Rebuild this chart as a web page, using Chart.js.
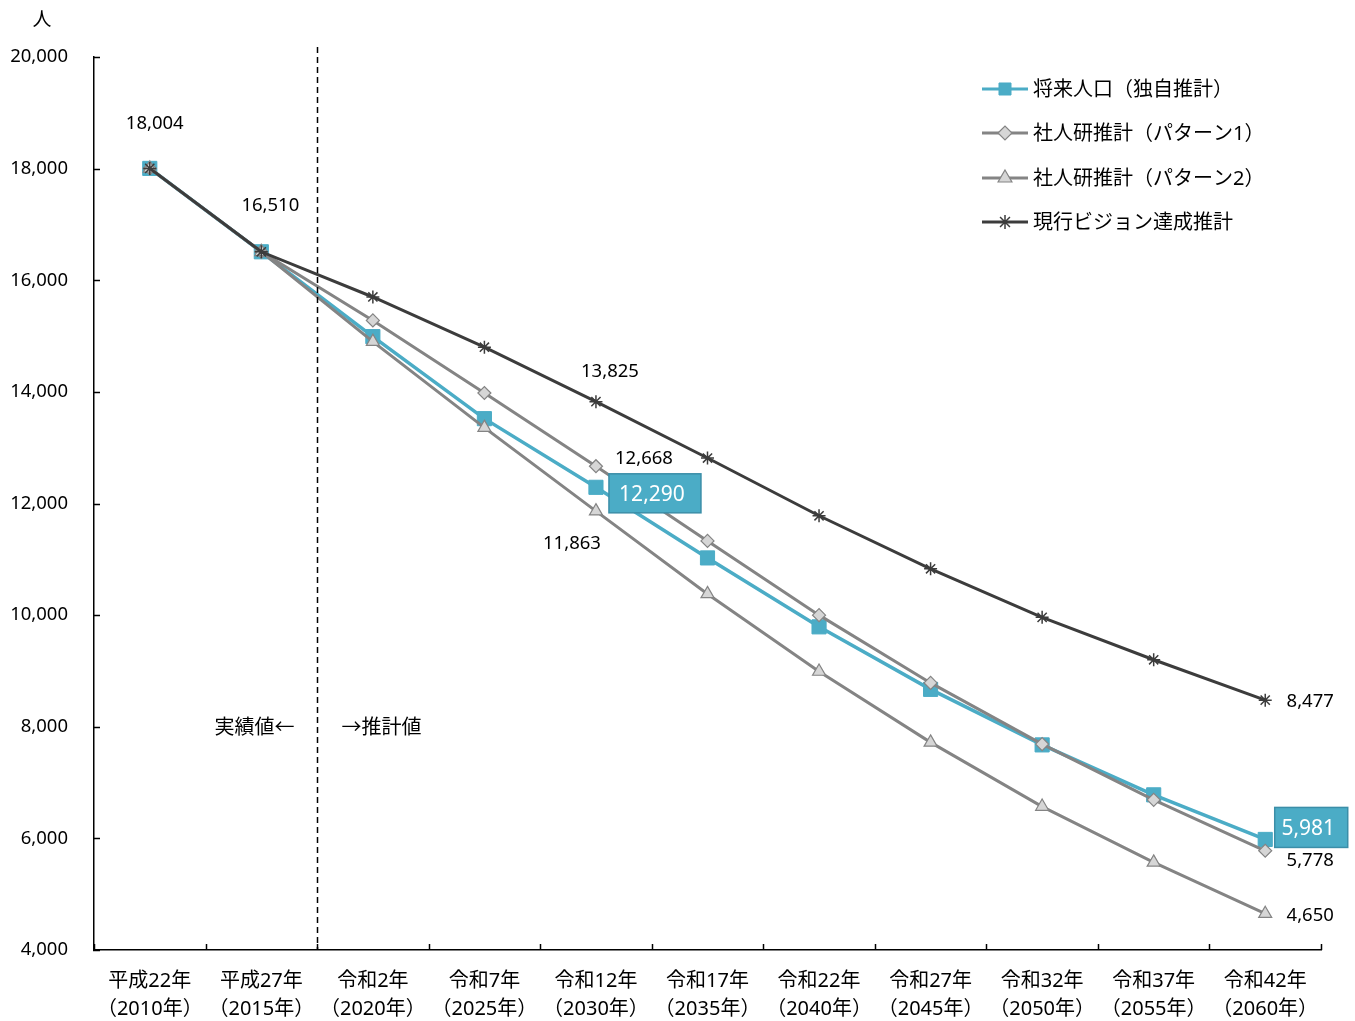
<!DOCTYPE html>
<html lang="ja">
<head>
<meta charset="utf-8">
<title>将来人口推計</title>
<script src="https://cdn.jsdelivr.net/npm/chart.js@4.4.1/dist/chart.umd.min.js"></script>
<style>
  html, body { margin: 0; padding: 0; background: #fff; }
  #wrap { position: relative; width: 1355px; height: 1021px; }
</style>
</head>
<body>
<div id="wrap"><canvas id="chart"></canvas></div>
<script>
const FONT = '"Noto Sans", "Noto Sans CJK JP", sans-serif';

// Categories (two-line tick labels)
const periods = [
  ['平成22年', '（2010年）'],
  ['平成27年', '（2015年）'],
  ['令和2年', '（2020年）'],
  ['令和7年', '（2025年）'],
  ['令和12年', '（2030年）'],
  ['令和17年', '（2035年）'],
  ['令和22年', '（2040年）'],
  ['令和27年', '（2045年）'],
  ['令和32年', '（2050年）'],
  ['令和37年', '（2055年）'],
  ['令和42年', '（2060年）'],
];

// Series values (people)
const ownEstimate = [18004, 16510, 14990, 13520, 12290, 11025, 9790, 8670, 7675, 6780, 5981];
const ipssPattern1 = [18004, 16510, 15280, 13980, 12668, 11330, 10000, 8785, 7690, 6690, 5778];
const ipssPattern2 = [18004, 16510, 14900, 13360, 11863, 10380, 8990, 7720, 6570, 5570, 4650];
const visionTarget = [18004, 16510, 15700, 14800, 13825, 12815, 11780, 10830, 9960, 9200, 8477];

const seriesNames = [
  '将来人口（独自推計）',
  '社人研推計（パターン1）',
  '社人研推計（パターン2）',
  '現行ビジョン達成推計',
];

// Y axis range / ticks
const yMin = 4000;
const yMax = 20000;
const yStep = 2000;

const BLUE = '#4bacc6';
const GRAY = '#848484';
const DARK = '#3c3c3c';
const MARK_FILL = '#d6d6d6';

const fmt = (v) => v.toLocaleString('en-US');

// Which values get a printed label, and where (offset from the point)
const valueLabels = [
  { ds: 3, i: 0, dx: 5, dy: -45 },
  { ds: 3, i: 1, dx: 9, dy: -46 },
  { ds: 3, i: 4, dx: 14, dy: -30 },
  { ds: 1, i: 4, dx: 48, dy: -7 },
  { ds: 0, i: 4, dx: 59, dy: 6, boxed: true, w: 92, h: 39 },
  { ds: 2, i: 4, dx: -24, dy: 33 },
  { ds: 3, i: 10, dx: 45, dy: 2 },
  { ds: 0, i: 10, dx: 46, dy: -12, boxed: true, w: 73, h: 40 },
  { ds: 1, i: 10, dx: 45, dy: 10 },
  { ds: 2, i: 10, dx: 45, dy: 2 },
];

const decorPlugin = {
  id: 'decor',
  afterDatasetsDraw(chart) {
    const { ctx, scales: { x, y } } = chart;
    const area = chart.chartArea;
    ctx.save();

    // inward ticks on the x axis (between categories)
    ctx.strokeStyle = '#000';
    ctx.lineWidth = 1.5;
    for (let i = 0; i <= periods.length; i += 1) {
      const px = Math.round(x.getPixelForValue(i - 0.5)) + 0.5;
      ctx.beginPath();
      ctx.moveTo(px, area.bottom);
      ctx.lineTo(px, area.bottom - 6);
      ctx.stroke();
    }
    // inward ticks on the y axis
    for (let v = yMin; v <= yMax; v += yStep) {
      const py = Math.round(y.getPixelForValue(v)) + 0.5;
      ctx.beginPath();
      ctx.moveTo(area.left - 1, py);
      ctx.lineTo(area.left + 6, py);
      ctx.stroke();
    }

    // dashed divider between actual and estimated values
    const dx = Math.round(x.getPixelForValue(1.5)) + 0.5;
    ctx.setLineDash([6, 4]);
    ctx.lineWidth = 1.5;
    ctx.beginPath();
    ctx.moveTo(dx, area.top - 10);
    ctx.lineTo(dx, area.bottom);
    ctx.stroke();
    ctx.setLineDash([]);

    ctx.fillStyle = '#000';
    ctx.font = `20px ${FONT}`;
    ctx.textBaseline = 'middle';
    ctx.textAlign = 'center';
    const ty = y.getPixelForValue(8000) + 2;
    ctx.fillText('実績値←', dx - 63, ty);
    ctx.fillText('→推計値', dx + 64, ty);

    // unit
    ctx.font = `19px ${FONT}`;
    ctx.fillText('人', 42, 21);

    // value labels
    valueLabels.forEach((l) => {
      const pt = chart.getDatasetMeta(l.ds).data[l.i];
      const cx = pt.x + l.dx;
      const cy = pt.y + l.dy;
      const text = fmt(chart.data.datasets[l.ds].data[l.i]);
      if (l.boxed) {
        ctx.fillStyle = BLUE;
        ctx.strokeStyle = '#3b8ea8';
        ctx.lineWidth = 1.5;
        ctx.fillRect(cx - l.w / 2, cy - l.h / 2, l.w, l.h);
        ctx.strokeRect(cx - l.w / 2, cy - l.h / 2, l.w, l.h);
        ctx.fillStyle = '#fff';
        ctx.font = `21px ${FONT}`;
        ctx.fillText(text, cx - 3, cy + 2);
      } else {
        ctx.fillStyle = '#000';
        ctx.font = `18.5px ${FONT}`;
        ctx.fillText(text, cx, cy);
      }
    });

    // legend
    const rows = [89, 133, 178, 222];
    chart.data.datasets.forEach((ds, k) => {
      const ly = rows[k];
      ctx.strokeStyle = ds.borderColor;
      ctx.lineWidth = 3;
      ctx.beginPath();
      ctx.moveTo(982, ly);
      ctx.lineTo(1028, ly);
      ctx.stroke();
      ctx.fillStyle = ds.pointBackgroundColor;
      ctx.strokeStyle = ds.pointBorderColor;
      ctx.lineWidth = ds.pointBorderWidth;
      Chart.helpers.drawPoint(ctx, {
        pointStyle: ds.pointStyle,
        radius: k === 0 ? 8.5 : ds.pointRadius + 0.5,
        borderWidth: ds.pointBorderWidth,
      }, 1005, ly);
      ctx.fillStyle = '#000';
      ctx.font = `20px ${FONT}`;
      ctx.textAlign = 'left';
      ctx.fillText(ds.label, 1033, ly + 1);
    });

    ctx.restore();
  },
};

new Chart(document.getElementById('chart'), {
  type: 'line',
  data: {
    labels: periods,
    datasets: [
      {
        label: seriesNames[0],
        data: ownEstimate,
        borderColor: BLUE,
        borderWidth: 3.5,
        pointStyle: 'rect',
        pointRadius: 10,
        pointBackgroundColor: BLUE,
        pointBorderColor: BLUE,
        pointBorderWidth: 1,
        order: 4,
      },
      {
        label: seriesNames[1],
        data: ipssPattern1,
        borderColor: GRAY,
        borderWidth: 3,
        pointStyle: 'rectRot',
        pointRadius: 6.5,
        pointBackgroundColor: MARK_FILL,
        pointBorderColor: GRAY,
        pointBorderWidth: 1.2,
        order: 3,
      },
      {
        label: seriesNames[2],
        data: ipssPattern2,
        borderColor: GRAY,
        borderWidth: 3,
        pointStyle: 'triangle',
        pointRadius: 7.5,
        pointBackgroundColor: MARK_FILL,
        pointBorderColor: GRAY,
        pointBorderWidth: 1.2,
        order: 2,
      },
      {
        label: seriesNames[3],
        data: visionTarget,
        borderColor: DARK,
        borderWidth: 3,
        pointStyle: 'star',
        pointRadius: 6.5,
        pointBackgroundColor: DARK,
        pointBorderColor: DARK,
        pointBorderWidth: 1.5,
        order: 1,
      },
    ],
  },
  options: {
    responsive: true,
    maintainAspectRatio: false,
    animation: false,
    layout: { padding: { top: 57, right: 34, left: 0, bottom: 0 } },
    plugins: {
      legend: { display: false },
      tooltip: { enabled: false },
    },
    scales: {
      x: {
        offset: true,
        grid: { display: true, drawOnChartArea: false, drawTicks: false },
        border: { display: true, color: '#000', width: 1.5 },
        ticks: {
          color: '#000',
          padding: 17,
          maxRotation: 0,
          autoSkip: false,
          font: { family: FONT, size: 20, lineHeight: 1.4 },
        },
        afterFit: (scale) => { scale.height = 71; },
      },
      y: {
        min: yMin,
        max: yMax,
        grid: { display: true, drawOnChartArea: false, drawTicks: false },
        border: { display: true, color: '#000', width: 1.5 },
        ticks: {
          stepSize: yStep,
          color: '#000',
          padding: 26,
          font: { family: FONT, size: 18.5 },
          callback: (v) => fmt(v),
        },
        afterFit: (scale) => { scale.width = 94; },
      },
    },
  },
  plugins: [decorPlugin],
});
</script>
</body>
</html>
